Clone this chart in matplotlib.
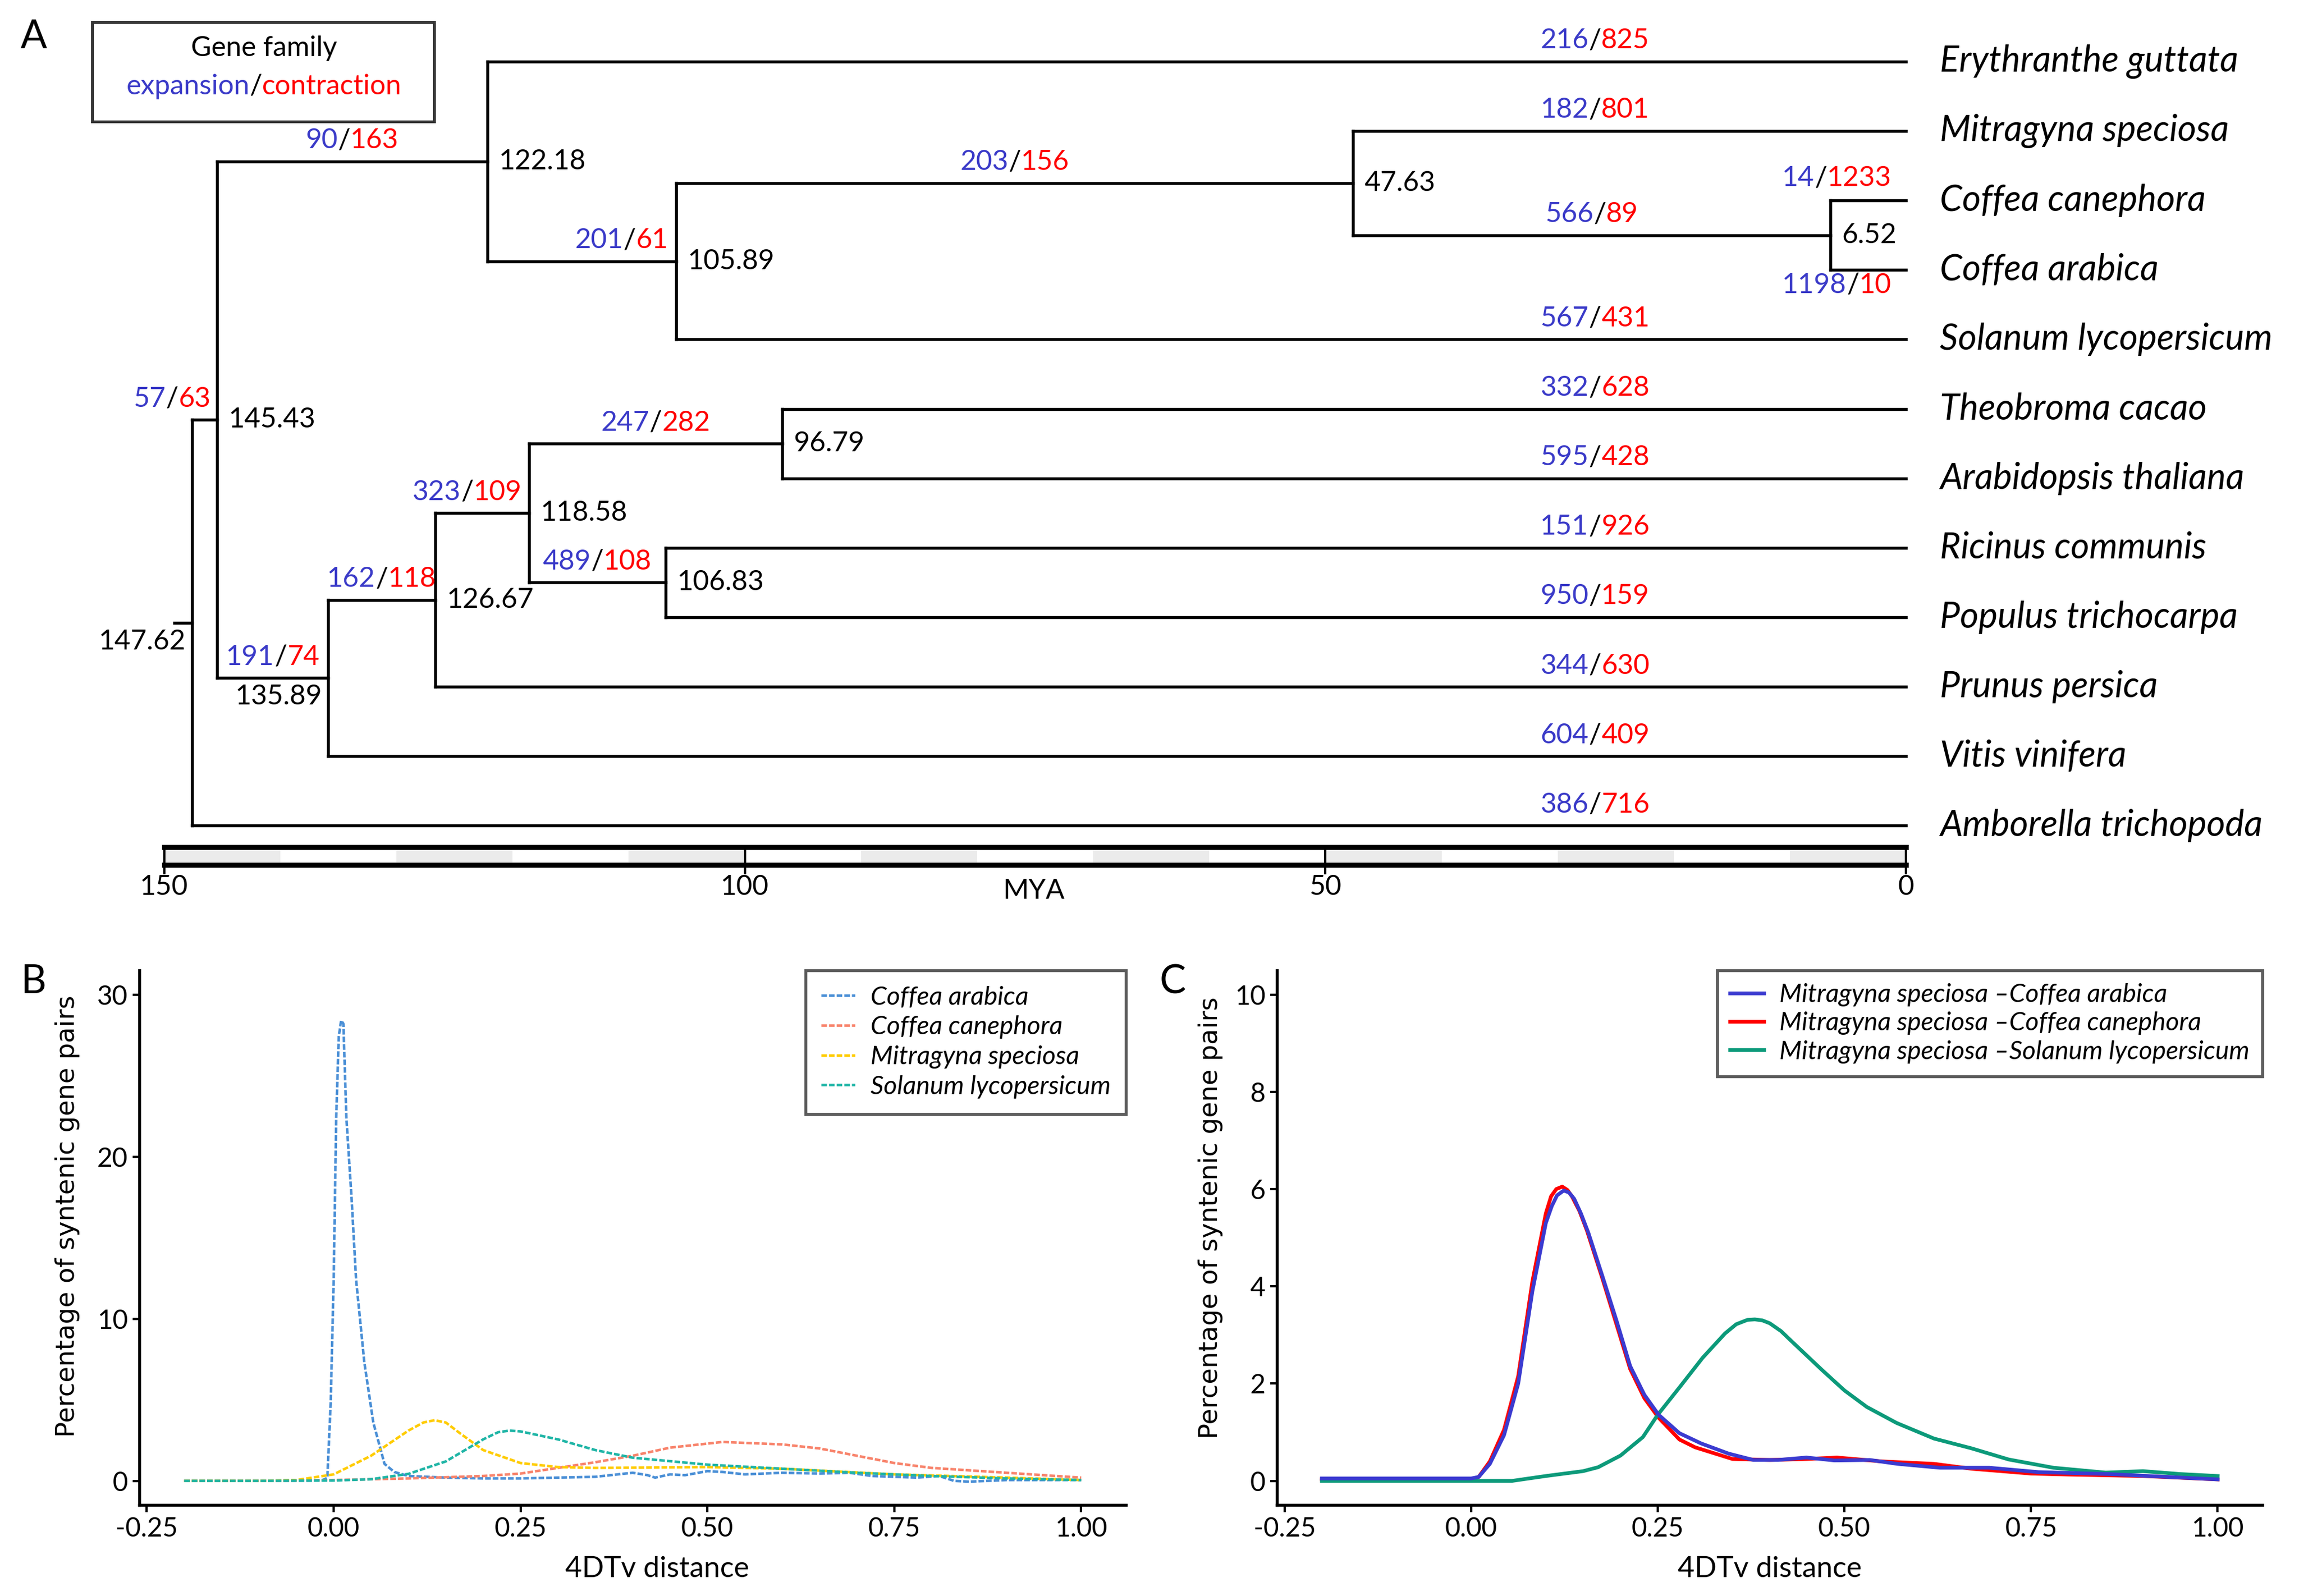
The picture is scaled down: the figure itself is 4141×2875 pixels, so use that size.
import matplotlib
matplotlib.use("Agg")
import matplotlib.pyplot as plt
from matplotlib.patches import Rectangle
from matplotlib.offsetbox import TextArea, HPacker, AnnotationBbox

# ---------------- data: panel A (tree) ----------------
species = ["Erythranthe guttata", "Mitragyna speciosa", "Coffea canephora",
           "Coffea arabica", "Solanum lycopersicum", "Theobroma cacao",
           "Arabidopsis thaliana", "Ricinus communis", "Populus trichocarpa",
           "Prunus persica", "Vitis vinifera", "Amborella trichopoda"]
tip_expansion = [216, 182, 14, 1198, 567, 332, 595, 151, 950, 344, 604, 386]
tip_contraction = [825, 801, 1233, 10, 431, 628, 428, 926, 159, 630, 409, 716]

node_names = ["root", "n145", "n122", "n105", "n47", "n6",
              "n135", "n126", "n118", "n96", "n106"]
node_ages = [147.62, 145.43, 122.18, 105.89, 47.63, 6.52,
             135.89, 126.67, 118.58, 96.79, 106.83]
node_children = [("n145", "Amborella trichopoda"), ("n122", "n135"),
                 ("Erythranthe guttata", "n105"), ("n47", "Solanum lycopersicum"),
                 ("Mitragyna speciosa", "n6"), ("Coffea canephora", "Coffea arabica"),
                 ("n126", "Vitis vinifera"), ("n118", "Prunus persica"),
                 ("n96", "n106"), ("Theobroma cacao", "Arabidopsis thaliana"),
                 ("Ricinus communis", "Populus trichocarpa")]
node_expansion = [None, 57, 90, 201, 203, 566, 191, 162, 323, 247, 489]
node_contraction = [None, 63, 163, 61, 156, 89, 74, 118, 109, 282, 108]

time_ticks = [150, 100, 50, 0]

# ---------------- data: panel B ----------------
ca_x = [-0.20, -0.10, -0.03, -0.015, -0.0085, -0.004, 0.0, 0.0034, 0.0068, 0.010,
        0.013, 0.017, 0.024, 0.030, 0.041, 0.053, 0.068, 0.081, 0.10, 0.15, 0.20,
        0.25, 0.30, 0.35, 0.38, 0.40, 0.42, 0.43, 0.45, 0.47, 0.50, 0.52, 0.55,
        0.60, 0.65, 0.69, 0.72, 0.78, 0.81, 0.83, 0.85, 0.90, 1.00]
ca_y = [0.0, 0.0, 0.02, 0.05, 0.18, 4.8, 12.4, 22.4, 27.4, 28.4,
        28.2, 22.4, 17.4, 12.4, 7.3, 3.6, 1.05, 0.55, 0.3, 0.2, 0.15,
        0.15, 0.2, 0.25, 0.4, 0.5, 0.35, 0.2, 0.4, 0.35, 0.6, 0.55, 0.4,
        0.5, 0.45, 0.5, 0.3, 0.2, 0.3, 0.0, -0.05, 0.05, 0.05]

cc_x = [-0.20, -0.10, 0.0, 0.10, 0.20, 0.25, 0.30, 0.35, 0.40, 0.45, 0.52,
        0.60, 0.65, 0.70, 0.75, 0.80, 0.90, 1.00]
cc_y = [0.0, 0.0, 0.05, 0.15, 0.3, 0.45, 0.8, 1.15, 1.55, 2.05, 2.4,
        2.25, 2.0, 1.55, 1.1, 0.8, 0.5, 0.2]

ms_x = [-0.20, -0.10, -0.05, 0.0, 0.05, 0.10, 0.12, 0.135, 0.15, 0.17, 0.20,
        0.25, 0.30, 0.35, 0.50, 0.60, 0.75, 0.90, 1.00]
ms_y = [0.0, 0.0, 0.05, 0.4, 1.55, 3.1, 3.6, 3.74, 3.6, 2.9, 1.9,
        1.1, 0.85, 0.8, 0.85, 0.75, 0.4, 0.2, 0.05]

sl_x = [-0.20, -0.10, 0.0, 0.05, 0.10, 0.15, 0.20, 0.22, 0.235, 0.25, 0.30,
        0.35, 0.40, 0.50, 0.60, 0.70, 0.80, 0.90, 1.00]
sl_y = [0.0, 0.0, 0.02, 0.1, 0.43, 1.2, 2.56, 3.0, 3.1, 3.05, 2.56,
        1.9, 1.43, 1.0, 0.75, 0.5, 0.3, 0.15, 0.05]

# ---------------- data: panel C ----------------
mca_x = [-0.20, 0.0, 0.010, 0.025, 0.044, 0.063, 0.082, 0.10, 0.108, 0.115, 0.124,
         0.131, 0.138, 0.147, 0.157, 0.176, 0.195, 0.213, 0.232, 0.251, 0.279,
         0.308, 0.345, 0.378, 0.411, 0.449, 0.487, 0.534, 0.571, 0.628, 0.694,
         0.76, 0.854, 1.00]
mca_y = [0.05, 0.05, 0.08, 0.35, 0.94, 2.0, 3.9, 5.3, 5.65, 5.87, 5.97,
         5.93, 5.8, 5.5, 5.1, 4.2, 3.28, 2.36, 1.77, 1.36, 0.98,
         0.77, 0.56, 0.43, 0.43, 0.48, 0.42, 0.43, 0.35, 0.27, 0.27,
         0.18, 0.14, 0.03]

mcc_x = [-0.20, 0.0, 0.010, 0.025, 0.044, 0.063, 0.082, 0.10, 0.107, 0.114, 0.122,
         0.129, 0.135, 0.145, 0.155, 0.176, 0.195, 0.213, 0.232, 0.251, 0.279,
         0.30, 0.35, 0.40, 0.45, 0.49, 0.55, 0.62, 0.67, 0.75, 0.80, 0.90, 1.00]
mcc_y = [0.03, 0.03, 0.08, 0.4, 1.05, 2.15, 4.1, 5.5, 5.85, 6.0, 6.05,
         5.98, 5.85, 5.55, 5.15, 4.15, 3.2, 2.3, 1.7, 1.3, 0.85,
         0.69, 0.45, 0.43, 0.45, 0.48, 0.4, 0.35, 0.25, 0.15, 0.13, 0.1, 0.03]

msl_x = [-0.20, 0.0, 0.055, 0.10, 0.15, 0.17, 0.20, 0.23, 0.25, 0.28, 0.31,
         0.34, 0.355, 0.37, 0.38, 0.39, 0.40, 0.415, 0.43, 0.47, 0.50, 0.53,
         0.57, 0.62, 0.67, 0.72, 0.78, 0.85, 0.90, 0.95, 1.00]
msl_y = [0.0, 0.0, 0.0, 0.1, 0.2, 0.28, 0.52, 0.9, 1.36, 1.94, 2.53,
         3.03, 3.22, 3.31, 3.32, 3.3, 3.24, 3.08, 2.86, 2.28, 1.86, 1.52,
         1.19, 0.87, 0.67, 0.44, 0.27, 0.17, 0.2, 0.14, 0.1]

# ---------------- style ----------------
BLUE_TXT = "#3a3ac8"
RED_TXT = "#ff0000"
TREE_FONT = ["Lato", "DejaVu Sans"]
NARROW_FONT = ["Liberation Sans Narrow", "Lato", "DejaVu Sans"]
LW = 1.3

plt.rcParams["font.family"] = TREE_FONT

fig = plt.figure(figsize=(4141 / 300, 2875 / 300), dpi=300)


def count_label(ax, x, y, exp, con, ha="center", size=12):
    kw = dict(fontsize=size, family=TREE_FONT)
    parts = [TextArea(str(exp), textprops=dict(color=BLUE_TXT, **kw)),
             TextArea("/", textprops=dict(color="black", **kw)),
             TextArea(str(con), textprops=dict(color=RED_TXT, **kw))]
    box = HPacker(children=parts, pad=0, sep=0, align="baseline")
    ax_ = {"left": 0.0, "center": 0.5, "right": 1.0}[ha]
    ab = AnnotationBbox(box, (x, y), xycoords="data", frameon=False,
                        box_alignment=(ax_, 0.5), pad=0)
    ax.add_artist(ab)


# ---------------- panel A ----------------
axA = fig.add_axes([0, 1 - 630 / 1089, 1, 630 / 1089])
axA.set_xlim(164.14, -33.84)
axA.set_ylim((630 - 42) / 47.4, -42 / 47.4)
axA.axis("off")

tip_y = {n: i for i, n in enumerate(species)}
age = {n: 0.0 for n in species}
for n, a in zip(node_names, node_ages):
    age[n] = a
ypos = dict(tip_y)


def get_y(n):
    if n not in ypos:
        c1, c2 = node_children[node_names.index(n)]
        ypos[n] = (get_y(c1) + get_y(c2)) / 2
    return ypos[n]


for n in node_names:
    get_y(n)

parent = {}
for n, ch in zip(node_names, node_children):
    for c in ch:
        parent[c] = n

for n, ch in zip(node_names, node_children):
    a = age[n]
    axA.plot([a, a], [ypos[ch[0]], ypos[ch[1]]], color="black", lw=LW,
             solid_capstyle="projecting")
    for c in ch:
        axA.plot([a, age[c]], [ypos[c], ypos[c]], color="black", lw=LW,
                 solid_capstyle="projecting")
# root stub
axA.plot([age["root"] + 1.5, age["root"]], [ypos["root"], ypos["root"]],
         color="black", lw=LW)

# node age labels
left_side = {"root", "n135"}
for n in node_names:
    if n in left_side:
        axA.text(age[n] + 0.5, ypos[n] + 0.27, f"{age[n]:.2f}", ha="right",
                 va="center", fontsize=12)
    else:
        axA.text(age[n] - 1.0, ypos[n], f"{age[n]:.2f}", ha="left",
                 va="center", fontsize=12)

# expansion / contraction on internal branches
label_shift = {"n145": 2.8, "n105": -3.4, "n118": 1.3}
for n, e, c in zip(node_names, node_expansion, node_contraction):
    if e is None:
        continue
    xm = (age[parent[n]] + age[n]) / 2 + label_shift.get(n, 0)
    count_label(axA, xm, ypos[n] - 0.3, e, c)

# expansion / contraction on tip branches + species names
for n, e, c in zip(species, tip_expansion, tip_contraction):
    y = tip_y[n]
    if n == "Coffea canephora":
        count_label(axA, 1.26, y - 0.32, e, c, ha="right")
    elif n == "Coffea arabica":
        count_label(axA, 1.26, y + 0.22, e, c, ha="right")
    else:
        count_label(axA, 26.8, y - 0.3, e, c)
    axA.text(-2.9, y, n, ha="left", va="center", fontsize=15.5, style="italic")

# legend box
axA.add_patch(Rectangle((126.77, -0.57), 29.43, 1.435, fill=False,
                        edgecolor="#333333", lw=1.2))
axA.text(141.4, -0.19, "Gene family", ha="center", va="center", fontsize=12)
kw = dict(fontsize=12, family=TREE_FONT)
legbox = HPacker(children=[TextArea("expansion", textprops=dict(color=BLUE_TXT, **kw)),
                           TextArea("/", textprops=dict(color="black", **kw)),
                           TextArea("contraction", textprops=dict(color=RED_TXT, **kw))],
                 pad=0, sep=0, align="baseline")
axA.add_artist(AnnotationBbox(legbox, (141.4, 0.36), frameon=False,
                              box_alignment=(0.5, 0.5), pad=0))

# time scale bar
bar_top = (578 - 42) / 47.4
bar_bot = (590 - 42) / 47.4
for start in range(0, 150, 20):
    axA.add_patch(Rectangle((start, bar_top), 10, bar_bot - bar_top,
                            facecolor="#ebebeb", edgecolor="none"))
axA.plot([150, 0], [bar_top, bar_top], color="black", lw=2.2)
axA.plot([150, 0], [bar_bot, bar_bot], color="black", lw=2.2)
for t in time_ticks:
    axA.plot([t, t], [bar_top, bar_bot + 0.12], color="black", lw=1.0)
    axA.text(t, 11.88, str(t), ha="center", va="center", fontsize=12)
axA.text(75.1, 11.94, "MYA", ha="center", va="center", fontsize=12)

fig.text(0.0147, 0.977, "A", fontsize=17, ha="center", va="center")


# ---------------- panels B and C ----------------
def style_axes(ax, ylim, yticks):
    ax.set_xlim(-0.26, 1.06)
    ax.set_ylim(*ylim)
    ax.set_yticks(yticks)
    ax.set_xticks([-0.25, 0.0, 0.25, 0.5, 0.75, 1.0])
    ax.set_xticklabels(["-0.25", "0.00", "0.25", "0.50", "0.75", "1.00"])
    for s in ["top", "right"]:
        ax.spines[s].set_visible(False)
    for s in ["left", "bottom"]:
        ax.spines[s].set_linewidth(1.3)
    ax.tick_params(direction="out", length=3, width=1.0, labelsize=11.5, pad=2)
    for lab in ax.get_xticklabels() + ax.get_yticklabels():
        lab.set_family(NARROW_FONT)
    ax.set_xlabel("4DTv distance", fontsize=12.5, family=NARROW_FONT)
    ax.set_ylabel("Percentage of syntenic gene pairs", fontsize=11.2,
                  family=["DejaVu Sans"])


axB = fig.add_axes([0.0606, 0.0569, 0.4292, 0.3352])
dash = (0, (2.2, 0.8))
axB.plot(ca_x, ca_y, color="#4a8fd6", lw=1.1, ls=dash, label="Coffea arabica")
axB.plot(cc_x, cc_y, color="#f8836b", lw=1.1, ls=dash, label="Coffea canephora")
axB.plot(ms_x, ms_y, color="#ffcc00", lw=1.1, ls=dash, label="Mitragyna speciosa")
axB.plot(sl_x, sl_y, color="#1fb5a6", lw=1.1, ls=dash, label="Solanum lycopersicum")
style_axes(axB, (-1.5, 31.5), [0, 10, 20, 30])
axB.xaxis.set_label_coords(0.525, -0.095)
axB.yaxis.set_label_coords(-0.06, 0.54)
legB = axB.legend(loc="upper right", bbox_to_anchor=(1.0, 1.0), borderaxespad=0,
                  frameon=True, fancybox=False, edgecolor="#333333",
                  prop=dict(family=TREE_FONT, style="italic", size=11.2),
                  handlelength=1.3, handletextpad=0.6, labelspacing=0.25,
                  borderpad=0.6)
legB.get_frame().set_linewidth(1.3)

axC = fig.add_axes([0.5555, 0.0569, 0.4286, 0.3352])
axC.plot(mca_x, mca_y, color="#3b3bd0", lw=1.6,
         label="Mitragyna speciosa \u2013Coffea arabica", zorder=3)
axC.plot(mcc_x, mcc_y, color="#ff0000", lw=1.6,
         label="Mitragyna speciosa \u2013Coffea canephora", zorder=2)
axC.plot(msl_x, msl_y, color="#0c9a7a", lw=1.6,
         label="Mitragyna speciosa \u2013Solanum lycopersicum", zorder=2)
style_axes(axC, (-0.5, 10.5), [0, 2, 4, 6, 8, 10])
axC.xaxis.set_label_coords(0.5, -0.095)
axC.yaxis.set_label_coords(-0.055, 0.537)
handles, labels = axC.get_legend_handles_labels()
legC = axC.legend(handles, labels, loc="upper right", bbox_to_anchor=(1.0, 1.0),
                  borderaxespad=0, frameon=True, fancybox=False,
                  edgecolor="#333333",
                  prop=dict(family=TREE_FONT, style="italic", size=11.2),
                  handlelength=1.3, handletextpad=0.6, labelspacing=0.2,
                  borderpad=0.5)
legC.get_frame().set_linewidth(1.3)

fig.text(0.0147, 0.3848, "B", fontsize=17, ha="center", va="center")
fig.text(0.510, 0.3848, "C", fontsize=17, ha="center", va="center")

fig.savefig("out.png", dpi=300, facecolor="white")
